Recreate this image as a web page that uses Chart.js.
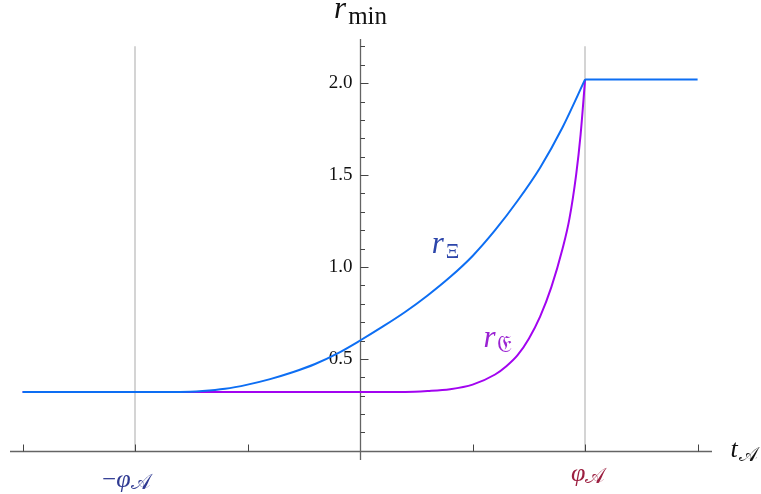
<!DOCTYPE html>
<html>
<head>
<meta charset="utf-8">
<script src="https://cdn.jsdelivr.net/npm/chart.js@4.4.0/dist/chart.umd.min.js"></script>
<style>
  html, body { margin: 0; padding: 0; background: #fff; }
  #wrap { width: 761px; height: 494px; position: relative; }
</style>
</head>
<body>
<div id="wrap"><canvas id="chart"></canvas></div>
<script>
// r_Xi (blue)
const xiT = [-1.5, -0.8, -0.7, -0.6, -0.5, -0.4, -0.3, -0.2, -0.1, 0, 0.1, 0.2, 0.3, 0.4, 0.5, 0.6, 0.7, 0.8, 0.9, 1.0];
const xiR = [0.32, 0.32, 0.325, 0.337, 0.36, 0.39, 0.427, 0.472, 0.53, 0.60, 0.675, 0.755, 0.845, 0.945, 1.06, 1.20, 1.36, 1.54, 1.76, 2.02];

// r_E fraktur (purple)
const frT = [-1.5, 0.2, 0.3, 0.4, 0.5, 0.6, 0.65, 0.7, 0.75, 0.8, 0.85, 0.9, 0.93, 0.96, 0.98, 1.0];
const frR = [0.32, 0.32, 0.325, 0.335, 0.36, 0.415, 0.46, 0.52, 0.61, 0.73, 0.89, 1.10, 1.26, 1.50, 1.72, 2.02];

// common plateau after phi_A
const plateauT = [1.0, 1.5];
const plateauR = [2.02, 2.02];

// axes
const phiMarks = [-1, 1];
const xTicks = [-1.5, -1, -0.5, 0.5, 1, 1.5];
const yMajorTicks = [0.5, 1.0, 1.5, 2.0];
const yTickLabels = ['0.5', '1.0', '1.5', '2.0'];
const yMinorTicks = [0.1, 0.2, 0.3, 0.4, 0.6, 0.7, 0.8, 0.9, 1.1, 1.2, 1.3, 1.4, 1.6, 1.7, 1.8, 1.9, 2.1, 2.2];

const BLUE = '#0d6ef3';
const PURPLE = '#a204f0';
const SERIF = '"Liberation Serif", "DejaVu Serif", serif';

const toPoints = (ts, rs) => ts.map((t, i) => ({ x: t, y: rs[i] }));

// draws a symbol with a subscript, parts = [{text, size, italic, dx, dy}]
const drawParts = (ctx, parts, x, y, color) => {
    ctx.fillStyle = color;
    ctx.textAlign = 'left';
    ctx.textBaseline = 'alphabetic';
    let cx = x;
    parts.forEach(p => {
        ctx.font = `${p.italic ? 'italic ' : ''}${p.size}px ${SERIF}`;
        cx += p.dx || 0;
        ctx.fillText(p.text, cx, y + (p.dy || 0));
        cx += ctx.measureText(p.text).width;
    });
};

const mmaAxes = {
    id: 'mmaAxes',
    beforeDatasetsDraw(chart) {
        const { ctx, chartArea, scales: { x, y } } = chart;
        const x0 = Math.round(x.getPixelForValue(0)) + 0.5;
        const y0 = Math.round(y.getPixelForValue(0)) + 0.5;
        ctx.save();

        // light guide lines at +-phi_A
        ctx.strokeStyle = '#cacaca';
        ctx.lineWidth = 1.6;
        phiMarks.forEach(v => {
            const px = Math.round(x.getPixelForValue(v));
            ctx.beginPath();
            ctx.moveTo(px, y.getPixelForValue(2.2));
            ctx.lineTo(px, y0);
            ctx.stroke();
        });

        // axis lines
        ctx.strokeStyle = '#646464';
        ctx.lineWidth = 1.3;
        ctx.beginPath();
        ctx.moveTo(chartArea.left, y0);
        ctx.lineTo(chartArea.right, y0);
        ctx.moveTo(x0, chartArea.top);
        ctx.lineTo(x0, chartArea.bottom);
        ctx.stroke();

        // ticks
        ctx.strokeStyle = '#444';
        ctx.lineWidth = 1;
        ctx.beginPath();
        xTicks.forEach(v => {
            const px = Math.round(x.getPixelForValue(v)) + 0.5;
            ctx.moveTo(px, y0);
            ctx.lineTo(px, y0 - 7);
        });
        yMajorTicks.forEach(v => {
            const py = Math.round(y.getPixelForValue(v)) + 0.5;
            ctx.moveTo(x0, py);
            ctx.lineTo(x0 + 8, py);
        });
        yMinorTicks.forEach(v => {
            const py = Math.round(y.getPixelForValue(v)) + 0.5;
            ctx.moveTo(x0, py);
            ctx.lineTo(x0 + 4.5, py);
        });
        ctx.stroke();

        // y tick labels
        ctx.fillStyle = '#111';
        ctx.font = `19px ${SERIF}`;
        ctx.textAlign = 'right';
        ctx.textBaseline = 'alphabetic';
        yMajorTicks.forEach((v, i) => {
            ctx.fillText(yTickLabels[i], x0 - 8, y.getPixelForValue(v) + 5);
        });
        ctx.restore();
    },
    afterDatasetsDraw(chart) {
        const { ctx, scales: { x, y } } = chart;
        const x0 = x.getPixelForValue(0);
        const y0 = y.getPixelForValue(0);
        ctx.save();

        // axis titles
        drawParts(ctx, [
            { text: 'r', size: 31, italic: true },
            { text: 'min', size: 25, dx: 2, dy: 6 }
        ], x0 - 26, 18, '#111');
        drawParts(ctx, [
            { text: 't', size: 26, italic: true },
            { text: '\u{1D49C}', size: 20, dx: 1, dy: 4 }
        ], x.getPixelForValue(1.5) + 33, y0 + 6, '#111');

        // phi_A tick labels
        drawParts(ctx, [
            { text: '\u2212', size: 25 },
            { text: '\u03C6', size: 26, italic: true },
            { text: '\u{1D49C}', size: 21, dy: 2 }
        ], x.getPixelForValue(-1) - 33, y0 + 36, '#2f3a92');
        drawParts(ctx, [
            { text: '\u03C6', size: 26, italic: true },
            { text: '\u{1D49C}', size: 21, dy: 2 }
        ], x.getPixelForValue(1) - 14, y0 + 30, '#9c1f40');

        // curve labels
        drawParts(ctx, [
            { text: 'r', size: 31, italic: true },
            { text: '\u039E', size: 21, dx: 2, dy: 5 }
        ], x.getPixelForValue(0.318), y.getPixelForValue(1.076), '#2c45aa');
        drawParts(ctx, [
            { text: 'r', size: 31, italic: true },
            { text: '\u{1D508}', size: 24, dx: 2, dy: 5 }
        ], x.getPixelForValue(0.548), y.getPixelForValue(0.562), '#9a22d2');
        ctx.restore();
    }
};

const lineSet = (data, color, order) => ({
    data,
    borderColor: color,
    borderWidth: 2,
    pointRadius: 0,
    fill: false,
    cubicInterpolationMode: 'monotone',
    order
});

new Chart(document.getElementById('chart'), {
    type: 'line',
    data: {
        datasets: [
            lineSet(toPoints(xiT, xiR), BLUE, 0),
            lineSet(toPoints(plateauT, plateauR), BLUE, 1),
            lineSet(toPoints(frT, frR), PURPLE, 2)
        ]
    },
    options: {
        responsive: true,
        maintainAspectRatio: false,
        animation: false,
        layout: { padding: { left: 10, right: 49, top: 39, bottom: 34 } },
        plugins: {
            legend: { display: false },
            tooltip: { enabled: false }
        },
        scales: {
            x: { type: 'linear', min: -1.556, max: 1.564, display: false },
            y: { type: 'linear', min: -0.05, max: 2.24, display: false }
        }
    },
    plugins: [mmaAxes]
});
</script>
</body>
</html>
